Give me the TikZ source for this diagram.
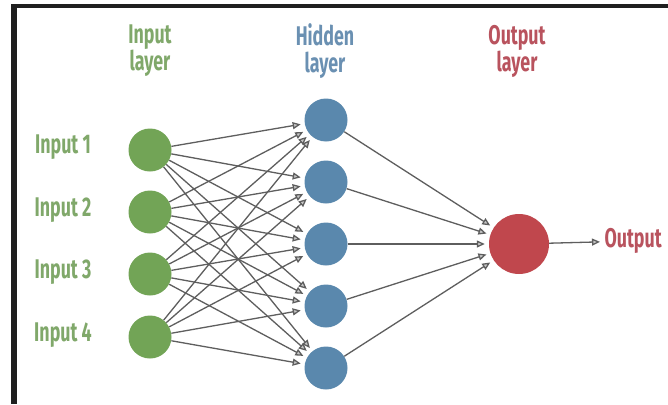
\documentclass[tikz,border=0pt]{standalone}
\usepackage{fontspec}
\newfontfamily\netfont[FakeStretch=0.66]{Fira Sans}
\usetikzlibrary{arrows.meta}
\definecolor{ingreen}{HTML}{72A456}
\definecolor{hidblue}{HTML}{5A88AD}
\definecolor{outred}{HTML}{C0474D}
\definecolor{ingreentxt}{HTML}{80A86A}
\definecolor{hidbluetxt}{HTML}{6A90B2}
\definecolor{outredtxt}{HTML}{B9535E}
\definecolor{linkgray}{HTML}{5E5E5E}
\begin{document}
\begin{tikzpicture}[x=1pt,y=-1pt,
  innode/.style={circle,fill=ingreen,minimum size=43pt,inner sep=0pt},
  hidnode/.style={circle,fill=hidblue,minimum size=43pt,inner sep=0pt},
  outnode/.style={circle,fill=outred,minimum size=60pt,inner sep=0pt},
  lbl/.style={font=\netfont\bfseries\fontsize{27}{27}\selectfont},
  head/.style={font=\netfont\bfseries\fontsize{27}{27}\selectfont,align=center},
  link/.style={draw=linkgray,line width=1.3pt,shorten >=4pt,
    -{Triangle[length=8pt,width=7pt,fill=gray!45]}}]
\useasboundingbox (0,0) rectangle (668,404);
\fill[white] (0,0) rectangle (668,404);
% frame
\fill[black!88] (11,4) rectangle (668,8);
\fill[black!88] (11,4) rectangle (17,404);
% layer titles
\node[head,text=ingreentxt] (inhead) at (150,51) {Input\\layer};
\node[head,text=hidbluetxt] (hidhead) at (325,51) {Hidden\\layer};
\node[head,text=outredtxt] (outhead) at (517,51) {Output\\layer};
% input layer
\node[innode] (i1) at (150,150) {};
\node[innode] (i2) at (150,212) {};
\node[innode] (i3) at (150,274) {};
\node[innode] (i4) at (150,337) {};
\node[lbl,text=ingreentxt] (il1) at (63,147) {Input 1};
\node[lbl,text=ingreentxt] (il2) at (63,210) {Input 2};
\node[lbl,text=ingreentxt] (il3) at (63,272) {Input 3};
\node[lbl,text=ingreentxt] (il4) at (63,335) {Input 4};
% hidden layer
\node[hidnode] (h1) at (326,120) {};
\node[hidnode] (h2) at (326,182) {};
\node[hidnode] (h3) at (326,244) {};
\node[hidnode] (h4) at (326,306) {};
\node[hidnode] (h5) at (326,368) {};
% output layer
\node[outnode] (o) at (519,244) {};
\node[lbl,text=outredtxt,anchor=west] (outlbl) at (601,241) {Output};
% input -> hidden
\draw[link] (i1) -- (h1);
\draw[link] (i1) -- (h2);
\draw[link] (i1) -- (h3);
\draw[link] (i1) -- (h4);
\draw[link] (i1) -- (h5);
\draw[link] (i2) -- (h1);
\draw[link] (i2) -- (h2);
\draw[link] (i2) -- (h3);
\draw[link] (i2) -- (h4);
\draw[link] (i2) -- (h5);
\draw[link] (i3) -- (h1);
\draw[link] (i3) -- (h2);
\draw[link] (i3) -- (h3);
\draw[link] (i3) -- (h4);
\draw[link] (i3) -- (h5);
\draw[link] (i4) -- (h1);
\draw[link] (i4) -- (h2);
\draw[link] (i4) -- (h3);
\draw[link] (i4) -- (h4);
\draw[link] (i4) -- (h5);
% hidden -> output
\draw[link] (h1) -- (o);
\draw[link] (h2) -- (o);
\draw[link] (h3) -- (o);
\draw[link] (h4) -- (o);
\draw[link] (h5) -- (o);
\draw[link,shorten >=1pt] (o) -- (outlbl);
\end{tikzpicture}
\end{document}
